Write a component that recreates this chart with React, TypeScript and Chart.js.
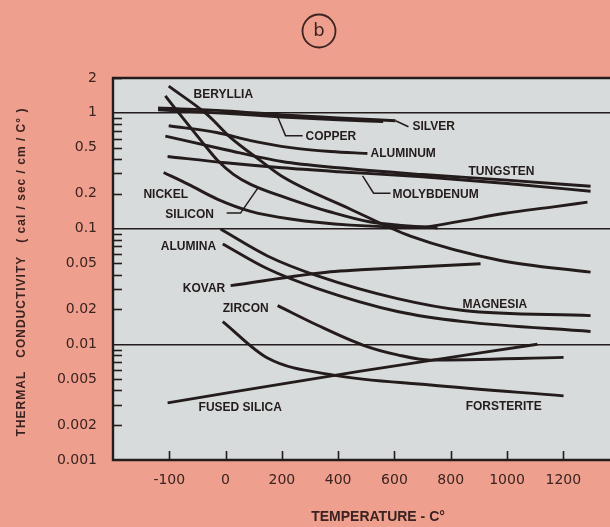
import React, { useEffect, useRef } from "react";
import { Chart, registerables } from "chart.js";

Chart.register(...registerables);

// ---------- axis ticks ----------
const xTickLabels = ["-100", "0", "200", "400", "600", "800", "1000", "1200"];
const xTickTemps = [-100, 0, 200, 400, 600, 800, 1000, 1200];
const yTickValues = [0.001, 0.002, 0.005, 0.01, 0.02, 0.05, 0.1, 0.2, 0.5, 1, 2];
const yTickLabels = ["0.001", "0.002", "0.005", "0.01", "0.02", "0.05", "0.1", "0.2", "0.5", "1", "2"];
const yMajorLines = [0.01, 0.1, 1];

// ---------- series (temperature °C, conductivity cal/sec/cm/°C) ----------
const silverT = [-120, 0, 200, 400, 604];
const silverK = [1.1, 1.04, 0.96, 0.905, 0.854];

const copperT = [-120, 0, 200, 400, 560];
const copperK = [1.06, 0.99, 0.92, 0.87, 0.84];

const aluminumT = [-101, -14, 89, 231, 373, 504];
const aluminumK = [0.773, 0.673, 0.575, 0.5, 0.463, 0.445];

const tungstenT = [-107, 0, 200, 400, 700, 1000, 1297];
const tungstenK = [0.63, 0.48, 0.38, 0.335, 0.293, 0.262, 0.232];

const molybdenumT = [-103, 0, 200, 400, 700, 1000, 1297];
const molybdenumK = [0.42, 0.37, 0.335, 0.31, 0.28, 0.245, 0.21];

const nickelT = [-110, -66, -14, 89, 231, 444, 693, 810, 988, 1165, 1286];
const nickelK = [0.305, 0.241, 0.179, 0.141, 0.121, 0.107, 0.103, 0.113, 0.135, 0.154, 0.169];

const siliconT = [-107, -75, -39, -14, 28, 89, 231, 373, 515, 753];
const siliconK = [1.4, 0.89, 0.54, 0.387, 0.294, 0.241, 0.179, 0.139, 0.114, 0.101];

const berylliaT = [-101, -32, 18, 124, 206, 444, 657, 977, 1297];
const berylliaK = [1.7, 0.96, 0.61, 0.387, 0.277, 0.147, 0.086, 0.053, 0.042];

const magnesiaT = [-9, 149, 327, 611, 845, 1297];
const magnesiaK = [0.099, 0.058, 0.039, 0.0248, 0.0196, 0.0177];

const aluminaT = [-5, 149, 327, 611, 845, 1297];
const aluminaK = [0.0736, 0.0449, 0.0303, 0.0192, 0.0157, 0.0129];

const kovarT = [18, 373, 480, 906];
const kovarK = [0.0321, 0.0423, 0.044, 0.0496];

const zirconT = [185, 327, 490, 611, 728, 1201];
const zirconK = [0.0216, 0.0146, 0.0098, 0.0081, 0.0073, 0.0077];

const fusedSilicaT = [-103, 480, 1108];
const fusedSilicaK = [0.00312, 0.00586, 0.01];

const forsteriteT = [-5, 149, 384, 728, 1201];
const forsteriteK = [0.0157, 0.0076, 0.00542, 0.00445, 0.00358];

// ---------- curve labels & leader lines (data space) ----------
const curveLabels = [
  { text: "BERYLLIA", t: -57, k: 1.43 },
  { text: "COPPER", t: 284, k: 0.622 },
  { text: "SILVER", t: 664, k: 0.758 },
  { text: "ALUMINUM", t: 515, k: 0.445 },
  { text: "TUNGSTEN", t: 863, k: 0.312 },
  { text: "MOLYBDENUM", t: 593, k: 0.198 },
  { text: "NICKEL", t: -146, k: 0.198 },
  { text: "SILICON", t: -107, k: 0.133 },
  { text: "ALUMINA", t: -115, k: 0.0694 },
  { text: "KOVAR", t: -76, k: 0.0303 },
  { text: "ZIRCON", t: -5, k: 0.0204 },
  { text: "MAGNESIA", t: 842, k: 0.0221 },
  { text: "FUSED SILICA", t: -48, k: 0.00282 },
  { text: "FORSTERITE", t: 853, k: 0.00288 },
];

const leaderT = [
  [185, 213, 274],
  [604, 650],
  [487, 526, 586],
  [117, 53, 4],
];
const leaderK = [
  [0.925, 0.635, 0.635],
  [0.854, 0.758],
  [0.285, 0.202, 0.202],
  [0.228, 0.136, 0.136],
];

const series = [
  { name: "Silver", t: silverT, k: silverK },
  { name: "Copper", t: copperT, k: copperK },
  { name: "Aluminum", t: aluminumT, k: aluminumK },
  { name: "Tungsten", t: tungstenT, k: tungstenK },
  { name: "Molybdenum", t: molybdenumT, k: molybdenumK },
  { name: "Nickel", t: nickelT, k: nickelK },
  { name: "Silicon", t: siliconT, k: siliconK },
  { name: "Beryllia", t: berylliaT, k: berylliaK },
  { name: "Magnesia", t: magnesiaT, k: magnesiaK },
  { name: "Alumina", t: aluminaT, k: aluminaK },
  { name: "Kovar", t: kovarT, k: kovarK },
  { name: "Zircon", t: zirconT, k: zirconK },
  { name: "Fused silica", t: fusedSilicaT, k: fusedSilicaK },
  { name: "Forsterite", t: forsteriteT, k: forsteriteK },
];

// The printed temperature axis has equal spacing per tick (-100..0 same as 0..200)
const toPos = (t: number) => (t < 0 ? 1 + t / 100 : 1 + t / 200);

const INK = "#241c1c";
const PAGE = "#ef9f8d";
const PLOT = "#d7dbdb";
const LABEL_FONT = 'bold 12px "Liberation Sans", Arial, sans-serif';

const W = 610;
const H = 527;

const decorPlugin = {
  id: "decor",
  beforeDraw(chart: any) {
    const { ctx, chartArea } = chart;
    ctx.save();
    ctx.fillStyle = PAGE;
    ctx.fillRect(0, 0, chart.width, chart.height);
    ctx.fillStyle = PLOT;
    ctx.fillRect(chartArea.left, chartArea.top, chartArea.right - chartArea.left, chartArea.bottom - chartArea.top);
    ctx.restore();
  },
  afterDraw(chart: any) {
    const { ctx, chartArea } = chart;
    const xs = chart.scales.x;
    const ys = chart.scales.y;
    const px = (t: number) => xs.getPixelForValue(toPos(t));
    const py = (k: number) => ys.getPixelForValue(k);
    ctx.save();
    ctx.strokeStyle = INK;
    ctx.fillStyle = INK;

    // frame: top, left, bottom
    ctx.lineWidth = 2.4;
    ctx.beginPath();
    ctx.moveTo(chartArea.right + 2, chartArea.top);
    ctx.lineTo(chartArea.left, chartArea.top);
    ctx.lineTo(chartArea.left, chartArea.bottom);
    ctx.lineTo(chartArea.right + 2, chartArea.bottom);
    ctx.stroke();

    // inner minor ticks on log axis
    ctx.lineWidth = 1.6;
    [0.001, 0.01, 0.1, 1].forEach((d) => {
      for (let m = 2; m <= 9; m++) {
        const v = m * d;
        if (v > 2.0001) continue;
        const y = Math.round(py(v)) + 0.5;
        ctx.beginPath();
        ctx.moveTo(chartArea.left, y);
        ctx.lineTo(chartArea.left + 9, y);
        ctx.stroke();
      }
    });
    // inner ticks on temperature axis
    xTickTemps.forEach((t) => {
      const x = Math.round(px(t)) + 0.5;
      ctx.beginPath();
      ctx.moveTo(x, chartArea.bottom);
      ctx.lineTo(x, chartArea.bottom - 9);
      ctx.stroke();
    });

    // leader lines
    ctx.lineWidth = 1.5;
    leaderT.forEach((ts, i) => {
      ctx.beginPath();
      ts.forEach((t, j) => {
        const x = px(t);
        const y = py(leaderK[i][j]);
        if (j === 0) ctx.moveTo(x, y);
        else ctx.lineTo(x, y);
      });
      ctx.stroke();
    });

    // curve labels
    ctx.font = LABEL_FONT;
    ctx.textAlign = "left";
    ctx.textBaseline = "middle";
    curveLabels.forEach((l) => {
      ctx.fillText(l.text, px(l.t), py(l.k));
    });

    // axis titles
    ctx.fillStyle = "#3a2320";
    ctx.font = 'bold 14px "Liberation Sans", Arial, sans-serif';
    ctx.textAlign = "center";
    ctx.fillText("TEMPERATURE - C°", 378, 517);

    ctx.save();
    ctx.translate(22, 272);
    ctx.rotate(-Math.PI / 2);
    ctx.font = 'bold 12px "Liberation Sans", Arial, sans-serif';
    (ctx as any).letterSpacing = "1px";
    ctx.fillText("THERMAL   CONDUCTIVITY   ( cal / sec / cm / C° )", 0, 0);
    ctx.restore();

    // panel marker (b)
    ctx.lineWidth = 1.8;
    ctx.strokeStyle = "#3a2320";
    ctx.beginPath();
    ctx.arc(319, 31, 16.5, 0, Math.PI * 2);
    ctx.stroke();
    ctx.font = '18px "DejaVu Sans", sans-serif';
    ctx.textAlign = "center";
    ctx.textBaseline = "middle";
    ctx.fillText("b", 319, 31);

    ctx.restore();
  },
};

export default function App() {
  const ref = useRef<HTMLCanvasElement | null>(null);

  useEffect(() => {
    if (!ref.current) return;
    const chart = new Chart(ref.current, {
      type: "line",
      data: {
        datasets: series.map((s) => ({
          label: s.name,
          data: s.t.map((t, i) => ({ x: toPos(t), y: s.k[i] })),
          borderColor: INK,
          borderWidth: 2.9,
          pointRadius: 0,
          fill: false,
          cubicInterpolationMode: "monotone" as const,
        })),
      },
      options: {
        animation: false,
        responsive: false,
        events: [],
        layout: { padding: { top: 78, right: 0, left: 0, bottom: 0 } },
        plugins: { legend: { display: false }, title: { display: false }, tooltip: { enabled: false } },
        scales: {
          x: {
            type: "linear",
            min: toPos(-200),
            max: 7.83,
            afterFit: (s: any) => {
              s.height = H - 460;
            },
            afterBuildTicks: (s: any) => {
              s.ticks = xTickLabels.map((_, i) => ({ value: i }));
            },
            ticks: {
              autoSkip: false,
              maxRotation: 0,
              padding: 12,
              color: "#3a2320",
              font: { family: '"DejaVu Sans", sans-serif', size: 14 },
              callback: (v: any) => xTickLabels[Math.round(Number(v))] ?? "",
            },
            grid: { display: false, drawTicks: false },
            border: { display: false },
          },
          y: {
            type: "logarithmic",
            min: 0.001,
            max: 2,
            afterFit: (s: any) => {
              s.width = 113;
            },
            afterBuildTicks: (s: any) => {
              s.ticks = yTickValues.map((v) => ({ value: v }));
            },
            ticks: {
              autoSkip: false,
              padding: 16,
              color: "#3a2320",
              font: { family: '"DejaVu Sans", sans-serif', size: 14 },
              callback: (_v: any, i: number) => yTickLabels[i],
            },
            grid: {
              drawTicks: false,
              lineWidth: 1.5,
              color: (c: any) =>
                c.tick && yMajorLines.some((m) => Math.abs(c.tick.value - m) < m * 1e-6) ? INK : "rgba(0,0,0,0)",
            },
            border: { display: false },
          },
        },
      },
      plugins: [decorPlugin],
    });
    return () => chart.destroy();
  }, []);

  return (
    <div style={{ position: "absolute", left: 0, top: 0, width: W, height: H, background: PAGE }}>
      <canvas ref={ref} width={W} height={H} style={{ display: "block", width: W, height: H }} />
    </div>
  );
}
